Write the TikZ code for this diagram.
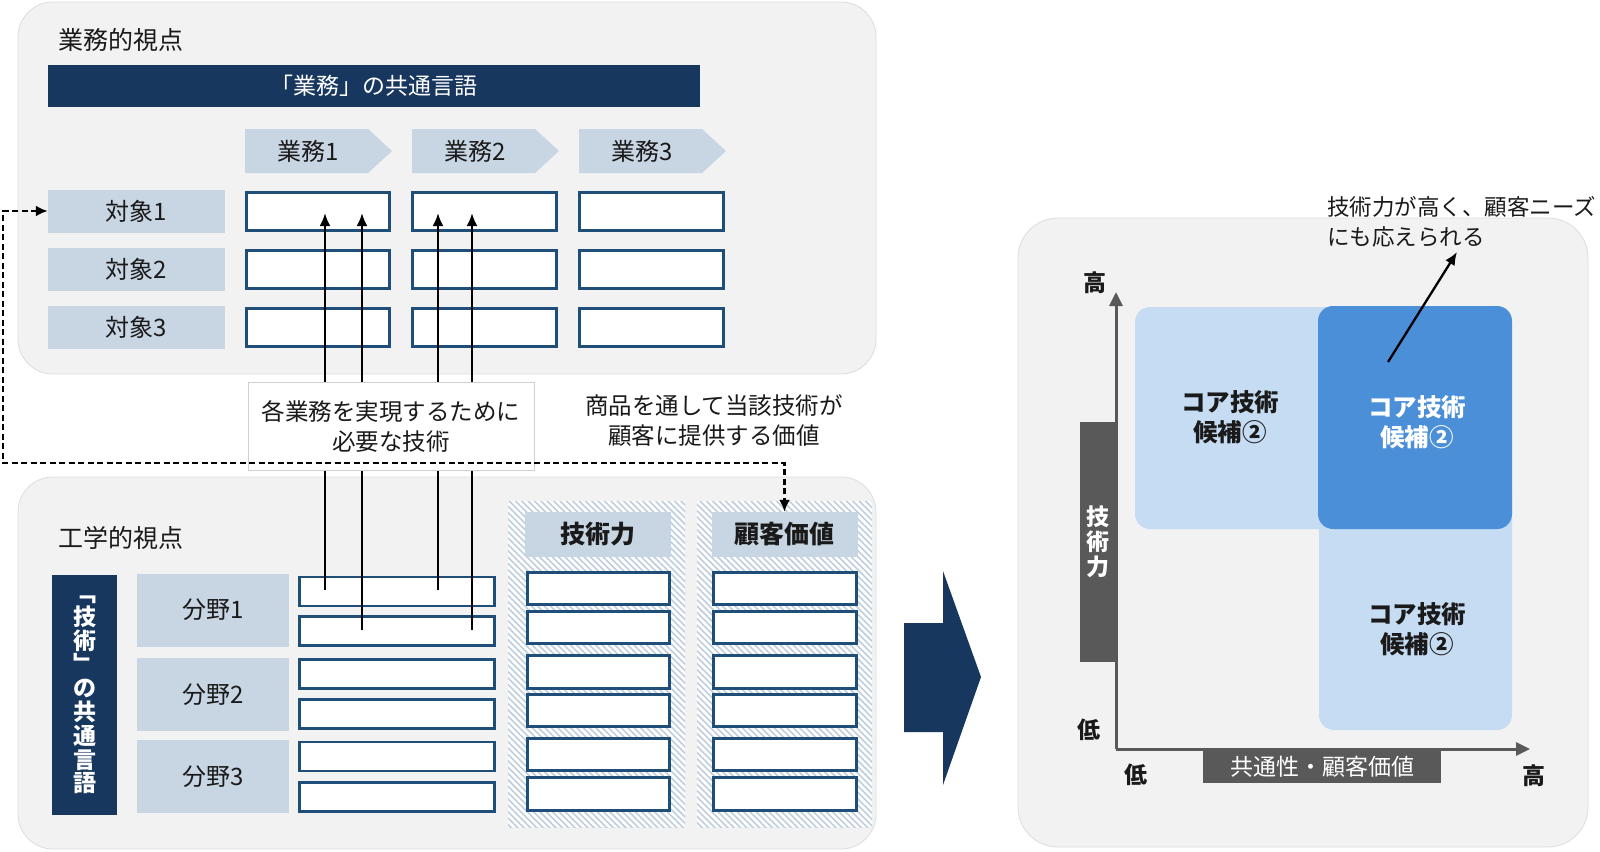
\documentclass[tikz,border=0pt]{standalone}
\usepackage{fontspec}
\setmainfont{Noto Sans CJK JP}
\usetikzlibrary{arrows.meta,patterns.meta}
\definecolor{navy}{HTML}{17375E}
\definecolor{boxblue}{HTML}{1F4E79}
\definecolor{lblue}{HTML}{C8D5E2}
\definecolor{panelgray}{HTML}{F2F2F2}
\definecolor{panelline}{HTML}{DDDDDD}
\definecolor{hatchc}{HTML}{BFCEDD}
\definecolor{qlight}{HTML}{C5DCF2}
\definecolor{qdark}{HTML}{4A8FD8}
\definecolor{gbarc}{HTML}{595959}
\definecolor{ink}{HTML}{1A1A1A}
\definecolor{lbline}{HTML}{D0D0D0}
\tikzset{
  panel/.style={fill=panelgray, draw=panelline, line width=0.8pt, rounded corners=35pt},
  ttl/.style={font=\fontsize{25}{30}\selectfont, text=ink, inner sep=0pt},
  lbl/.style={fill=lblue, inner sep=0pt, text=ink, font=\fontsize{24}{30}\selectfont},
  wbox/.style={draw=boxblue, line width=2.8pt, fill=white, inner sep=0pt},
  banner/.style={fill=navy, text=white, inner sep=0pt, font=\fontsize{23}{28}\selectfont},
  hdtxt/.style={text=ink, inner sep=0pt, font=\fontsize{24}{30}\selectfont},
  boldhd/.style={fill=lblue, inner sep=0pt, text=ink, font=\fontsize{25}{30}\selectfont\bfseries},
  upline/.style={draw=black, line width=2.3pt, -{Latex[length=13pt,width=11pt]}},
  dashln/.style={draw=black, line width=2.4pt, dash pattern=on 6pt off 3.5pt, {Latex[length=12pt,width=11pt]}-{Latex[length=12pt,width=11pt]}},
  note/.style={text=ink, inner sep=0pt, align=center, font=\fontsize{23.5}{30}\selectfont},
  hatchcol/.style={pattern={Lines[angle=-45,distance=4.5pt,line width=1.6pt]}, pattern color=hatchc},
  quadtxt/.style={inner sep=0pt, align=center, font=\fontsize{24.5}{30}\selectfont\bfseries},
  axis/.style={draw=gbarc, line width=3pt, -{Triangle[length=14pt,width=13pt]}},
  gbar/.style={fill=gbarc, text=white, inner sep=0pt},
  hl/.style={text=ink, inner sep=0pt, font=\fontsize{23}{28}\selectfont\bfseries},
}
\begin{document}
\begin{tikzpicture}[x=1pt,y=-1pt]
\useasboundingbox (0,0) rectangle (1600,851);
\fill[white] (0,0) rectangle (1600,851);

% ---------- panels ----------
\draw[panel] (18,2) rectangle (876,374);
\draw[panel] (18,477) rectangle (876,849);
\draw[panel, rounded corners=40pt] (1018,218) rectangle (1588,847);

% ---------- top panel ----------
\node[ttl, anchor=west] (t1) at (58,40) {業務的視点};
\node[banner, minimum width=652pt, minimum height=42pt] (bn) at (374,86) {「業務」の共通言語};

\foreach \n/\x in {1/245,2/412,3/579}{
  \fill[lblue] (\x,129) -- ++(123,0) -- ++(24,22) -- ++(-24,22) -- ++(-123,0) -- cycle;
  \node[hdtxt] (g\n) at (\x+63,151) {業務\n};
}
\foreach \i/\y in {1/211,2/269,3/327}{
  \node[lbl, minimum width=177pt, minimum height=43pt] (o\i) at (136.5,\y) {対象\i};
}
\foreach \c/\x in {1/318,2/484.5,3/651.5}{
  \foreach \r/\y in {1/211.5,2/269.5,3/327.5}{
    \node[wbox, minimum width=143.5pt, minimum height=38.5pt] (b\c\r) at (\x,\y) {};
  }
}

% ---------- bottom panel ----------
\node[ttl, anchor=west] (t2) at (58,538) {工学的視点};
\node[fill=navy, text=white, inner sep=0pt, minimum width=65pt, minimum height=240pt, align=center,
      font=\fontsize{23}{23.8}\selectfont\bfseries] (vb) at (84.5,695)
      {﹁\\技\\術\\﹂\\の\\共\\通\\言\\語};
\foreach \i/\y in {1/610,2/694.5,3/776.5}{
  \node[lbl, minimum width=152pt, minimum height=73pt] (f\i) at (213,\y) {分野\i};
}
\foreach \r/\y in {1/591.5,2/631,3/674,4/714,5/756.5,6/797}{
  \node[wbox, minimum width=195.5pt, minimum height=29pt] (l\r) at (397,\y) {};
}
% hatched columns
\fill[white] (508,501) rectangle (685,827);
\fill[hatchcol] (508,501) rectangle (685,827);
\fill[white] (697,501) rectangle (872,827);
\fill[hatchcol] (697,501) rectangle (872,827);
\node[boldhd, minimum width=146pt, minimum height=45pt] (hdA) at (598,534.5) {技術力};
\node[boldhd, minimum width=146pt, minimum height=45pt] (hdB) at (784.5,534.5) {顧客価値};
\foreach \r/\y in {1/588.5,2/627.5,3/672,4/710.5,5/754.5,6/794}{
  \node[wbox, minimum width=142.5pt, minimum height=32.5pt] (a\r) at (598.5,\y) {};
  \node[wbox, minimum width=142.5pt, minimum height=32.5pt] (c\r) at (785,\y) {};
}

% ---------- connectors ----------
\coordinate (s1) at (325,590);
\coordinate (s2) at (362,630);
\coordinate (s3) at (438,590);
\coordinate (s4) at (472,630);
\draw[upline] (s1) -- (s1 |- 0,213);
\draw[upline] (s2) -- (s2 |- 0,213);
\draw[upline] (s3) -- (s3 |- 0,213);
\draw[upline] (s4) -- (s4 |- 0,213);

\node[note, draw=lbline, line width=0.8pt, fill=white, minimum width=286pt, minimum height=88pt] (lb) at (391,426)
  {各業務を実現するために\\必要な技術};
\node[note] (rt) at (714,421) {商品を通して当該技術が\\顧客に提供する価値};

\draw[dashln] (o1.west) -| (3,463) -| (hdB.north);

% big arrow
\fill[navy] (904,623) -- (943,623) -- (943,571) -- (981,677) -- (943,785) -- (943,732) -- (904,732) -- cycle;

% ---------- right panel ----------
\fill[qlight, rounded corners=15pt] (1135,307) rectangle (1345,529);
\fill[qlight, rounded corners=15pt] (1319,480) rectangle (1512,730);
\fill[qdark, rounded corners=15pt] (1318,306) rectangle (1512,529);
\node[quadtxt, text=ink] (q1) at (1230,417) {コア技術\\候補②};
\node[quadtxt, text=white] (q2) at (1417,422) {コア技術\\候補②};
\node[quadtxt, text=ink] (q3) at (1417,629) {コア技術\\候補②};

\node[gbar, minimum width=35pt, minimum height=240pt, align=center, font=\fontsize{23}{25}\selectfont\bfseries] (yb) at (1097.5,542) {技\\術\\力};
\node[gbar, minimum width=238pt, minimum height=32pt, font=\fontsize{23}{28}\selectfont] (xb) at (1322,767) {共通性・顧客価値};

\coordinate (org) at (1116,749);
\draw[axis] (org) -- (1116,292);
\draw[axis] (org) -- (1530,749);

\node[hl] (yh) at (1095,283) {高};
\node[hl] (yl) at (1089,730) {低};
\node[hl] (xl) at (1136,775) {低};
\node[hl] (xh) at (1534,776) {高};

\node[anchor=west, align=left, inner sep=0pt, text=ink, font=\fontsize{22.5}{30}\selectfont] (an) at (1327,222)
  {技術力が高く、顧客ニーズ\\にも応えられる};
\coordinate (ac) at (1388,362);
\coordinate (ae) at (1457,252);
\draw[draw=black, line width=2.3pt, -{Latex[length=13pt,width=11pt]}] (ac) -- (ae);
\end{tikzpicture}
\end{document}
